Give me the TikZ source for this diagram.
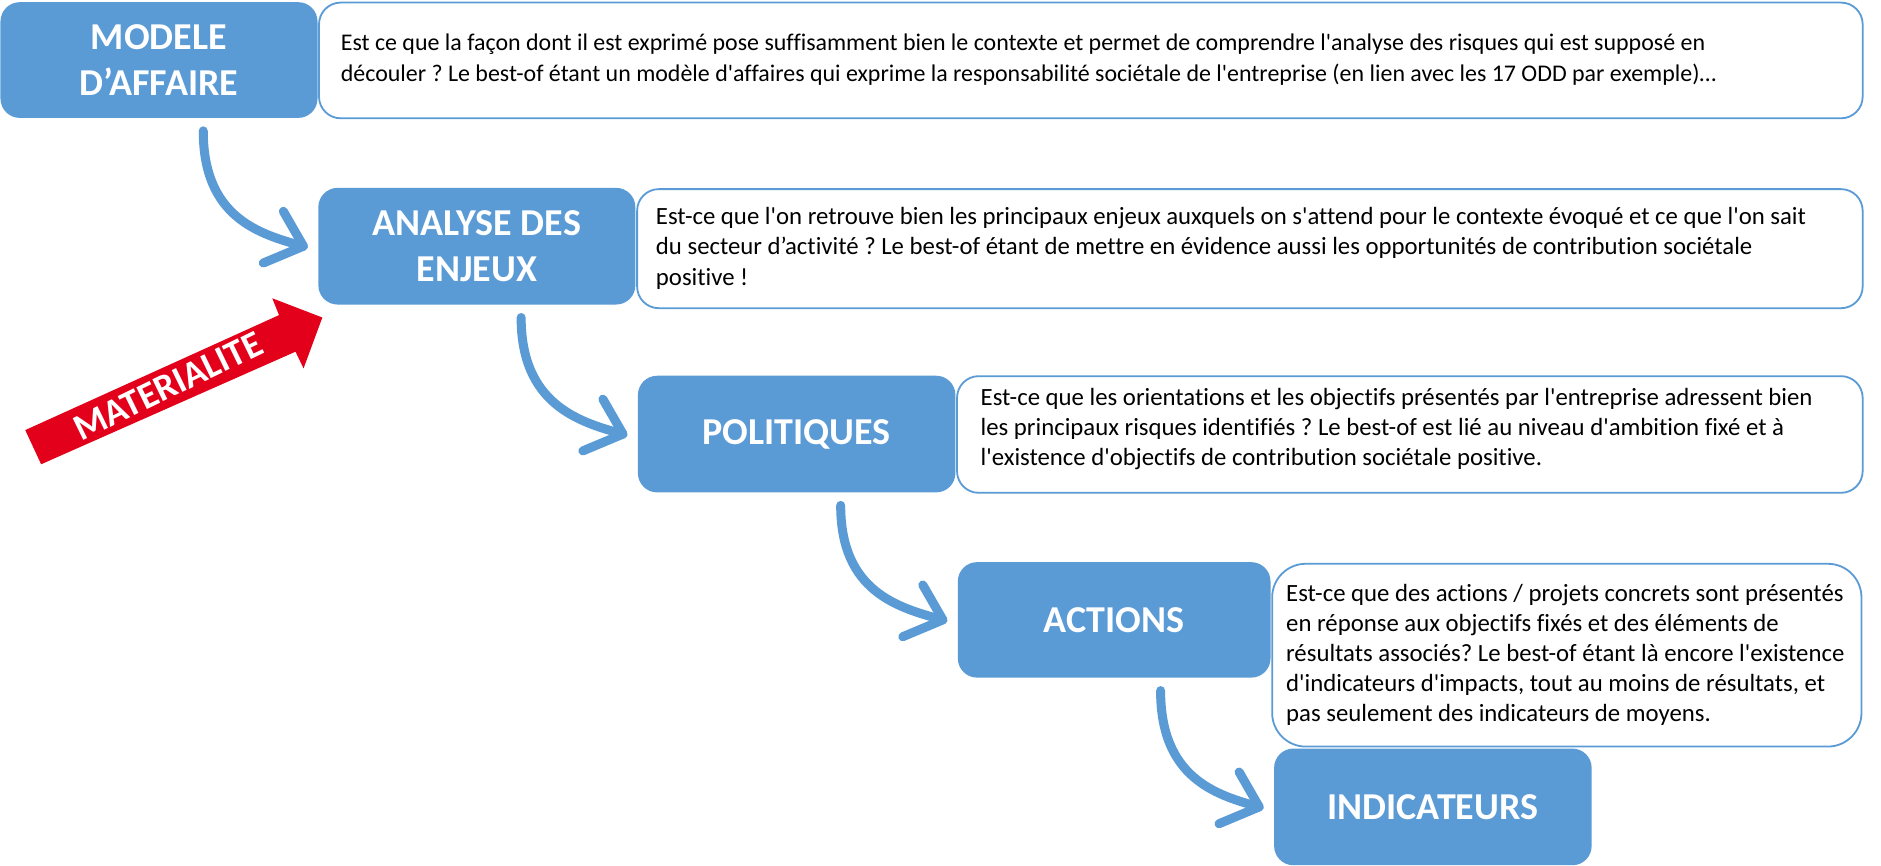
\documentclass[tikz,border=0pt]{standalone}
\usepackage{fontspec}
\setmainfont{Carlito}[Ligatures={TeXOff,CommonOff}]
\usetikzlibrary{calc}
\definecolor{bl}{HTML}{5B9BD5}
\definecolor{rd}{HTML}{E2001A}
\newcommand\bodytext[1]{\parbox[t]{700pt}{\raggedright\frenchspacing #1}}
\begin{document}
\begin{tikzpicture}[x=0.5pt,y=-0.5pt,
  bluebox/.style={fill=bl, draw=none, rounded corners=8pt, inner sep=0pt, anchor=north west,
    text=white, font=\fontsize{15.8}{19}\selectfont\bfseries, align=center},
  txtbox/.style={draw=bl, line width=0.75pt, fill=white, rounded corners=9pt, inner sep=0pt, anchor=north west},
  body/.style={anchor=base west, inner sep=0pt, font=\fontsize{10.3}{12.5}\selectfont},
  flow/.style={draw=bl, line width=3.75pt, line cap=round, line join=round}]
\useasboundingbox[fill=white] (0,0) rectangle (1564,720);

% text boxes
\node[txtbox, minimum width=641.75pt, minimum height=48.1pt] (t1) at (264.5,1.4) {};
\node[txtbox, minimum width=509.5pt, minimum height=49.5pt] (t2) at (529,156.5) {};
\node[txtbox, minimum width=376.5pt, minimum height=48.5pt] (t3) at (795,312) {};
\node[txtbox, minimum width=245pt, minimum height=76pt, rounded corners=14pt] (t4) at (1057,468) {};

% blue boxes
\node[bluebox, minimum width=131.8pt, minimum height=48.1pt] (b1) at (0,1.4) {MODELE\\D’AFFAIRE};
\node[bluebox, minimum width=131.8pt, minimum height=48.5pt] (b2) at (264.3,155.8) {ANALYSE DES\\ENJEUX};
\node[bluebox, minimum width=132pt, minimum height=48.5pt] (b3) at (530,312) {POLITIQUES};
\node[bluebox, minimum width=130pt, minimum height=48pt] (b4) at (796,467) {ACTIONS};
\node[bluebox, minimum width=132pt, minimum height=48.5pt] (b5) at (1059,622) {INDICATEURS};

% body texts
\node[body, font=\fontsize{9.95}{12.8}\selectfont] (x1) at (283,42) {\bodytext{Est ce que la façon dont il est exprimé pose suffisamment bien le contexte et permet de comprendre l'analyse des risques qui est supposé en\\
découler ? Le best-of étant un modèle d'affaires qui exprime la responsabilité sociétale de l'entreprise (en lien avec les 17 ODD par exemple)…}};
\node[body] (x2) at (545,187) {\bodytext{Est-ce que l'on retrouve bien les principaux enjeux auxquels on s'attend pour le contexte évoqué et ce que l'on sait\\
du secteur d’activité ? Le best-of étant de mettre en évidence aussi les opportunités de contribution sociétale\\
positive !}};
\node[body] (x3) at (815,337) {\bodytext{Est-ce que les orientations et les objectifs présentés par l'entreprise adressent bien\\
les principaux risques identifiés ? Le best-of est lié au niveau d'ambition fixé et à\\
l'existence d'objectifs de contribution sociétale positive.}};
\node[body] (x4) at (1069,500) {\bodytext{Est-ce que des actions / projets concrets sont présentés\\
en réponse aux objectifs fixés et des éléments de\\
résultats associés? Le best-of étant là encore l'existence\\
d'indicateurs d'impacts, tout au moins de résultats, et\\
pas seulement des indicateurs de moyens.}};

% curved connectors
\foreach \a/\b in {b1/b2,b2/b3,b3/b4,b4/b5}{
  \coordinate (s) at ($(\a.south west)+(169,10.4)$);
  \coordinate (e) at ($(\b.west)+(-12,0)$);
  \draw[flow] (s) .. controls +(0,72) and +(-37,-10) .. (e);
  \draw[flow] ($(e)+(-16.7,-29)$) -- (e) -- ($(e)+(-33.4,14)$);
}

% materialite arrow
\fill[rd] (21,357.6) -- (232,262) -- (226.4,248) -- (268,264) -- (252.4,306.3) -- (245.7,292.4) -- (34.2,386) -- cycle;
\node[rotate=26, text=white, inner sep=0pt, font=\fontsize{15.5}{15.5}\selectfont\bfseries] (mat) at (140,321) {MATERIALITE};
\end{tikzpicture}
\end{document}
